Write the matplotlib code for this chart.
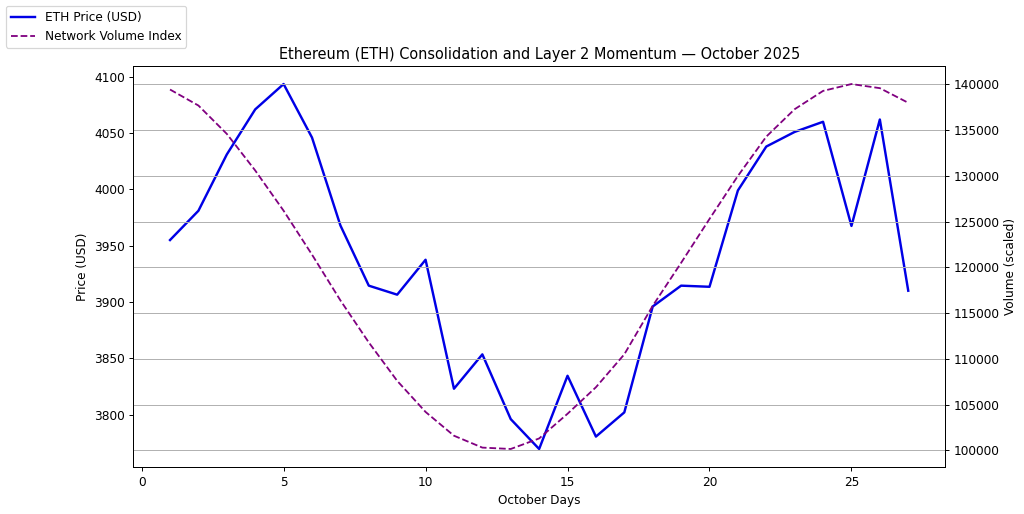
import matplotlib
matplotlib.use("Agg")
import matplotlib.pyplot as plt

days = list(range(1, 28))
eth_price = [3955, 3981, 4031, 4071, 4093.5, 4046, 3968, 3914.5, 3906.5, 3937.5,
             3823, 3853.5, 3796, 3769.5, 3834.5, 3780.5, 3802, 3896, 3914.5, 3913.5,
             3999, 4038, 4051, 4060, 3967.5, 4062, 3910]
volume_index = [139450, 137700, 134600, 130600, 126200, 121400, 116400, 111800, 107600, 104200,
                101600, 100300, 100150, 101300, 104000, 106900, 110500, 115800, 120500, 125300,
                130000, 134300, 137300, 139300, 140050, 139600, 138000]

DPI = 87
fig, ax = plt.subplots(figsize=(1024 / DPI, 514 / DPI), dpi=DPI)
ax2 = ax.twinx()

l1, = ax.plot(days, eth_price, color="#0000e6", linewidth=2, label="ETH Price (USD)")
l2, = ax2.plot(days, volume_index, color="purple", linestyle="--", linewidth=1.5,
               label="Network Volume Index")

ax.set_xlabel("October Days")
ax.set_ylabel("Price (USD)")
ax2.set_ylabel("Volume (scaled)")
ax.set_title("Ethereum (ETH) Consolidation and Layer 2 Momentum — October 2025")
ax2.grid(True)

fig.legend(handles=[l1, l2], loc="upper left")
fig.subplots_adjust(left=0.130, right=0.923, top=0.872, bottom=0.091)
fig.savefig("out.png", dpi=DPI)
